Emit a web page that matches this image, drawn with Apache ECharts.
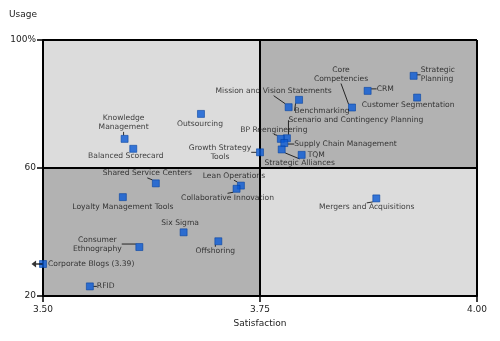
<!DOCTYPE html>
<html><head><meta charset="utf-8">
<script src="https://cdn.jsdelivr.net/npm/echarts@6/dist/echarts.min.js"></script>
<style>html,body{margin:0;padding:0;background:#fff}#c{width:500px;height:341px}</style>
</head><body><div id="c"></div>
<script>
// ---- data ----
const tools = [
  'Strategic\nPlanning', 'CRM', 'Customer Segmentation', 'Core\nCompetencies',
  'Mission and Vision Statements', 'Benchmarking', 'Scenario and Contingency Planning',
  'BP Reengineering', 'Supply Chain Management', 'Strategic Alliances', 'TQM',
  'Growth Strategy\nTools', 'Outsourcing', 'Knowledge\nManagement', 'Balanced Scorecard',
  'Shared Service Centers', 'Loyalty Management Tools', 'Lean Operations',
  'Collaborative Innovation', 'Six Sigma', 'Consumer\nEthnography', 'Offshoring',
  'Corporate Blogs (3.39)', 'RFID', 'Mergers and Acquisitions'
];
const satisfaction = [
  3.927, 3.874, 3.931, 3.856,
  3.783, 3.795, 3.781,
  3.774, 3.778, 3.775, 3.798,
  3.750, 3.682, 3.594, 3.604,
  3.630, 3.592, 3.728,
  3.723, 3.662, 3.611, 3.702,
  3.39, 3.554, 3.884
];
const usage = [
  88.8, 84.1, 82.0, 78.9,
  79.0, 81.3, 69.3,
  69.1, 67.8, 65.8, 64.1,
  64.9, 76.9, 69.1, 66.0,
  55.2, 50.9, 54.5,
  53.5, 39.9, 35.3, 37.1,
  30.0, 23.0, 50.5
];
const xMin = 3.5, xMax = 4.0, xStep = 0.25;
const yMin = 20, yMax = 100, yStep = 40;
const xName = 'Satisfaction';
const yName = 'Usage';

// ---- label placement (pixels relative to marker) ----
const labelPlace = [
  [7, -1, 'left', true], [9, -2, 'left', true], [-9, 7, 'center', false], [-11, -33, 'center', true],
  [-15, -16, 'center', true], [23, 11, 'center', true], [69, -18, 'center', true],
  [-7, -9, 'center', true], [10, 1, 'left', true], [18, 14, 'center', true], [6, 0, 'left', false],
  [-40, 0, 'center', true], [-1, 10, 'center', false], [-1, -16, 'center', true], [-7.5, 7, 'center', false],
  [-8.5, -10, 'center', true], [0, 10, 'center', false], [-7, -10, 'center', true],
  [-9, 9, 'center', true], [-3.5, -9, 'center', false], [-42, -3, 'center', true], [-3, 10, 'center', true],
  [5, 0, 'left', false], [7, 0, 'left', true], [-9.6, 9, 'center', true]
];

const LIGHT = '#dcdcdc', DARK = '#b2b2b2';
const points = tools.map((n, i) => ({
  name: n,
  value: [Math.max(satisfaction[i], xMin), usage[i]],
  labelLine: { show: labelPlace[i][3] }
}));

const chart = echarts.init(document.getElementById('c'), null, { renderer: 'canvas' });
const axisText = { fontFamily: 'DejaVu Sans', fontSize: 9, color: '#222' };
chart.setOption({
  animation: false,
  grid: { left: 43, right: 23, top: 40, bottom: 45, containLabel: false },
  xAxis: {
    type: 'value', min: xMin, max: xMax, interval: xStep, z: 3,
    name: xName, nameLocation: 'middle', nameGap: 23,
    nameTextStyle: axisText,
    axisLine: { show: true, lineStyle: { color: '#000', width: 2 } },
    axisTick: { show: true, length: 6, lineStyle: { color: '#000', width: 1.5 } },
    axisLabel: Object.assign({ margin: 9, formatter: v => v.toFixed(2) }, axisText),
    splitLine: { show: true, lineStyle: { color: '#000', width: 2 } }
  },
  yAxis: {
    type: 'value', min: yMin, max: yMax, interval: yStep, z: 3,
    name: yName, nameLocation: 'end', nameGap: 21,
    nameTextStyle: Object.assign({ align: 'right', padding: [0, 6, 0, 0] }, axisText),
    axisLine: { show: true, lineStyle: { color: '#000', width: 2 } },
    axisTick: { show: true, length: 6, lineStyle: { color: '#000', width: 1.5 } },
    axisLabel: Object.assign({ margin: 7, formatter: v => v === 100 ? '100%' : String(v) }, axisText),
    splitLine: { show: true, lineStyle: { color: '#000', width: 2 } }
  },
  series: [
    {
      type: 'scatter', z: 1, data: [], silent: true,
      markArea: {
        silent: true,
        data: [
          [{ coord: [xMin, 60], itemStyle: { color: LIGHT } }, { coord: [3.75, yMax] }],
          [{ coord: [3.75, 60], itemStyle: { color: DARK } }, { coord: [xMax, yMax] }],
          [{ coord: [xMin, yMin], itemStyle: { color: DARK } }, { coord: [3.75, 60] }],
          [{ coord: [3.75, yMin], itemStyle: { color: LIGHT } }, { coord: [xMax, 60] }]
        ]
      }
    },
    {
      type: 'scatter', z: 6, clip: false, silent: true,
      symbol: 'path://M0,5 L5,0 L5,4 L12,4 L12,6 L5,6 L5,10 Z',
      symbolSize: [11, 7], symbolOffset: [-6, 0],
      itemStyle: { color: '#000' },
      data: tools.map((n, i) => satisfaction[i] < xMin ? [xMin, usage[i]] : null).filter(d => d)
    },
    {
      type: 'scatter', z: 5, clip: false,
      symbol: 'rect', symbolSize: 7,
      itemStyle: { color: '#0a5ad6', borderColor: '#003f9e', borderWidth: 0.7 },
      label: {
        show: true, formatter: p => p.name,
        fontFamily: 'DejaVu Sans', fontSize: 7.6, lineHeight: 9, color: '#111'
      },
      labelLine: { show: true, lineStyle: { color: '#000', width: 0.8 } },
      labelLayout: function (p) {
        const lp = labelPlace[p.dataIndex];
        const cx = p.rect.x + p.rect.width / 2, cy = p.rect.y + p.rect.height / 2;
        return { x: cx + lp[0], y: cy + lp[1], align: lp[2], verticalAlign: 'middle' };
      },
      data: points
    }
  ]
});
</script>
</body></html>
